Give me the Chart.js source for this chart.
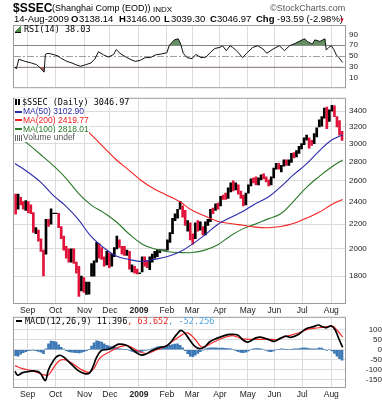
<!DOCTYPE html>
<html><head><meta charset="utf-8">
<script src="https://cdn.jsdelivr.net/npm/chart.js@4.4.1/dist/chart.umd.min.js"></script>
<style>
html,body{margin:0;padding:0;background:#fff;}
#wrap{position:relative;width:382px;height:400px;overflow:hidden;font-family:"Liberation Sans",Arial,sans-serif;color:#000;}
canvas{position:absolute;left:0;}
.t{position:absolute;white-space:nowrap;line-height:1;}
.m{font-family:"DejaVu Sans Mono",monospace;}
.lg{position:absolute;white-space:nowrap;line-height:9px;height:9px;background:#fff;font-size:8.5px;}
.dash{display:inline-block;width:7px;height:2px;vertical-align:middle;margin-right:1px;}
</style></head>
<body><div id="wrap">
<canvas id="rsi" width="382" height="96" style="top:0"></canvas>
<canvas id="price" width="382" height="226" style="top:90px"></canvas>
<canvas id="macd" width="382" height="90" style="top:310px"></canvas>

<div class="t" style="left:13px;top:2px;font-size:12px;font-weight:bold">$SSEC</div>
<div class="t" style="left:52px;top:4px;font-size:9px">(Shanghai Comp (EOD))</div>
<div class="t" style="left:153px;top:5.5px;font-size:8px">INDX</div>
<div class="t" style="left:270px;top:4px;font-size:9px;color:#555">©StockCharts.com</div>

<div class="t" style="left:14px;top:14px;font-size:9.5px">14-Aug-2009</div>
<div class="t" style="left:71px;top:14px;font-size:9.5px;font-weight:bold">O</div>
<div class="t" style="left:79px;top:14px;font-size:9.5px">3138.14</div>
<div class="t" style="left:119px;top:14px;font-size:9.5px;font-weight:bold">H</div>
<div class="t" style="left:126px;top:14px;font-size:9.5px">3146.00</div>
<div class="t" style="left:164px;top:14px;font-size:9.5px;font-weight:bold">L</div>
<div class="t" style="left:171px;top:14px;font-size:9.5px">3039.30</div>
<div class="t" style="left:210px;top:14px;font-size:9.5px;font-weight:bold">C</div>
<div class="t" style="left:217px;top:14px;font-size:9.5px">3046.97</div>
<div class="t" style="left:256px;top:14px;font-size:9.5px;font-weight:bold">Chg</div>
<div class="t" style="left:277px;top:14px;font-size:9.5px">-93.59 (-2.98%)</div>
<div class="t" style="left:339px;top:16.5px;font-size:6px;color:#d0103a">▼</div>

<div class="lg m" style="left:15px;top:25px;font-size:8.5px;background:transparent"><span style="display:inline-block;width:6px;height:6px;margin-right:3px;vertical-align:middle;background:linear-gradient(135deg,#fff 45%,#4f8a4f 46%);border-bottom:1px solid #000"></span>RSI(14) 38.03</div>

<div class="lg m" style="left:15px;top:97.8px"><span style="display:inline-block;width:2px;height:6px;background:#000;margin-right:1px;vertical-align:middle"></span><span style="display:inline-block;width:2px;height:6px;background:#000;margin-right:2px;vertical-align:middle"></span>$SSEC (Daily) 3046.97</div>
<div class="lg" style="left:15px;top:107.3px;color:#2b2ba8"><span class="dash" style="background:#2b2ba8"></span>MA(50) 3102.90</div>
<div class="lg" style="left:15px;top:115.6px;color:#f02020"><span class="dash" style="background:#f02020"></span>MA(200) 2419.77</div>
<div class="lg" style="left:15px;top:124.5px;color:#2a7a2a"><span class="dash" style="background:#2a7a2a"></span>MA(100) 2818.01</div>
<div class="lg" style="left:15px;top:133.2px;color:#555"><span style="display:inline-block;width:7px;height:6px;margin-right:1px;vertical-align:middle;background:repeating-linear-gradient(90deg,#666 0 1px,#fff 1px 2px)"></span>Volume undef</div>

<div class="lg m" style="left:16px;top:316.5px;background:transparent"><span class="dash" style="background:#000;width:6px;margin-right:3px"></span>MACD(12,26,9) 11.396<span style="color:#f02828">, 63.652</span><span style="color:#4aa3df">, -52.256</span></div>
</div>
<script>
const monthIdx = [10,32,55,75,98,120,140,162,184,205,227,250];
const monthLabels = ['Sep','Oct','Nov','Dec','2009','Feb','Mar','Apr','May','Jun','Jul','Aug'];
const priceTicks = [1800,2000,2200,2400,2600,2800,3000,3200,3400];
const rsiTicks = [10,30,50,70,90];
const macdTicks = [-150,-100,-50,0,50,100];
const prevClose = 2450;

const highs = [2470,2470,2440,2400,2410,2400,2370,2300,2170,2150, 2079,1990,2240,2240,2333,2296,2296,2293,2180,2100,
 2020,2000,2000,2000,1900,1870,1800,1790,1760,1760, 1890,1910,2050,2040,2010,1940,1980,1970,1960,2010,
 2100,2070,2020,2020,1990,1980,1880,1870,1850,1823, 1940,1940,1910,1940,1960,1980,1990,1995,1993,1993,
 2070,2130,2250,2290,2330,2402,2360,2320,2230,2210, 2120,2210,2230,2220,2180,2220,2240,2330,2340,2380,
 2385,2450,2460,2480,2530,2580,2600,2580,2560,2500, 2460,2480,2560,2620,2630,2640,2630,2660,2670,2640,
 2610,2640,2730,2780,2780,2760,2820,2820,2820,2890, 2900,2920,2970,3000,3070,3100,3070,3040,3120,3190,
 3290,3330,3440,3455,3420,3478,3470,3330,3280,3146];
const lows = [2285,2330,2370,2330,2320,2300,2290,2130,2120,2060, 1980,1802,1960,2180,2200,2290,2290,2170,2080,1990,
 1930,1900,1900,1890,1820,1664,1700,1690,1678,1680, 1800,1800,1900,1930,1920,1870,1880,1860,1870,1940,
 2000,2010,1960,1950,1950,1850,1830,1820,1815,1817, 1830,1870,1860,1845,1900,1930,1940,1970,1987,1987,
 1990,2050,2120,2230,2250,2330,2260,2190,2140,2070, 2037,2080,2140,2150,2110,2110,2190,2220,2290,2320,
 2330,2360,2420,2420,2430,2490,2500,2510,2470,2430, 2360,2370,2480,2550,2580,2560,2560,2610,2620,2590,
 2550,2560,2630,2720,2720,2690,2750,2760,2760,2790, 2840,2850,2890,2940,2990,3040,2950,2980,3000,3080,
 3200,3210,3310,3180,3270,3400,3330,3200,3100,3039];
const closes = [2337,2405,2400,2386,2397,2350,2300,2143,2150,2079, 1986,1896,2236,2201,2293,2293,2293,2173,2092,2000,
 1993,1909,1996,1895,1877,1771,1787,1719,1747,1747, 1827,1902,2030,2010,1930,1898,1969,1888,1946,2000,
 2027,2018,2011,1963,1974,1862,1866,1835,1820,1820, 1938,1878,1876,1935,1954,1955,1985,1990,1990,1990,
 2060,2124,2246,2261,2320,2359,2286,2201,2206,2082, 2071,2200,2145,2164,2128,2218,2227,2326,2323,2374,
 2373,2448,2444,2431,2529,2576,2516,2559,2494,2462, 2374,2477,2560,2616,2604,2570,2625,2647,2646,2609,
 2568,2632,2722,2768,2741,2749,2808,2776,2797,2880, 2856,2899,2965,2995,3060,3070,3005,3004,3112,3189,
 3265,3324,3435,3266,3412,3471,3356,3214,3112,3047];

const maIdx = [0,10,20,30,40,50,60,70,80,90,100,110,120,130,140,150,160,170,180,190,200,210,220,230,240,250,259];
const ma50  = [2780,2690,2590,2460,2360,2240,2100,2010,1945,1920,1905,1920,1940,1975,2035,2110,2195,2255,2310,2380,2440,2540,2660,2770,2910,3040,3102.90];
const ma100 = [3120,3000,2880,2760,2630,2480,2370,2300,2220,2120,2040,2000,1980,1972,1972,1990,2030,2100,2160,2200,2245,2290,2400,2530,2640,2740,2818.01];
const ma200 = [4060,3880,3710,3540,3380,3240,3110,2960,2820,2710,2600,2520,2460,2400,2320,2270,2225,2205,2190,2175,2170,2180,2205,2250,2300,2370,2419.77];

const rsiIdx = [0,1,3,8,13,17,20,23,24,26,30,34,37,41,45,49,52,56,60,63,66,70,74,78,80,83,87,91,95,99,103,107,111,116,120,122,126,129,131,133,136,140,143,147,151,155,158,162,164,167,170,172,175,180,183,188,192,196,199,204,209,213,217,222,227,229,231,235,237,241,245,246,248,250,252,254,256,259];
const rsiVal = [30,26,44,40,37,34,28,20,53,55,53,50,45,40,37,33,31,34,37,44,58,52,48,53,62,55,49,44,40,42,47,47,52,54,56,70,80,82,72,55,47,45,53,47,48,58,64,66,69,60,69,66,60,47,55,66,69,63,55,63,69,60,69,74,80,82,77,72,80,77,82,61,66,69,62,52,47,38.03];

const macdIdx = [0,2,6,10,14,18,20,24,26,28,32,35,38,44,50,55,59,62,64,68,74,78,82,88,92,96,100,104,108,114,120,124,128,131,134,138,142,146,150,154,160,166,170,176,180,184,190,194,200,205,210,214,218,224,230,236,240,243,246,250,253,256,259];
const macdVal = [-108,-128,-115,-110,-106,-110,-118,-154,-110,-80,-40,-28,-35,-70,-105,-120,-116,-80,-45,-5,2,15,28,22,5,-15,-27,-20,-5,10,20,45,78,97,85,50,18,5,15,40,58,72,77,74,50,38,58,63,52,42,58,68,62,76,105,116,124,115,110,119,100,55,11.396];
const sigIdx = [0,6,14,22,26,28,31,35,39,44,52,58,62,67,75,82,89,96,104,112,120,128,136,142,148,156,164,172,180,190,200,208,214,224,232,240,248,251,255,259];
const sigVal = [-80,-95,-106,-125,-128,-115,-85,-55,-50,-63,-98,-114,-98,-42,-10,13,21,-2,-19,0,21,58,84,55,13,35,58,71,54,52,52,52,66,84,103,110,117,119,95,63.652];
const hist = [-30,-33,-22,-15,-10,-5,-3,-2,-5,-8, -12,-20,5,30,43,42,38,25,12,3, -5,-10,-12,-14,-15,-16,-14,-10,-5,2,
 18,35,45,42,38,30,22,18,14,12, 8,5,3,2,0,-4,-8,-12,-14,-12, -8,-4,-2,0,5,10,14,16,16,16,
 18,22,26,28,29,22,10,-5,-20,-32, -35,-28,-18,-10,-2,5,8,10,10,9, 8,8,8,7,6,4,0,-5,-10,-14,
 -15,-12,-6,0,4,6,6,4,0,-4, -8,-10,-6,0,2,4,3,2,0,2, 4,5,6,8,9,8,6,5,4,5,
 10,8,2,-4,0,-6,-18,-32,-45,-52.256];

const FONT = "'Liberation Sans', Arial, sans-serif";
const GRID = '#dcdcdc';
const pts = (idx, vals) => idx.map((x, i) => ({x, y: vals[i]}));

const frame = {id:'frame', afterDraw(c){
  const a = c.chartArea, g = c.ctx; g.save();
  g.strokeStyle = '#9c9c9c'; g.lineWidth = 1;
  g.strokeRect(a.left - 0.5, a.top - 0.5, a.right - a.left + 1, a.bottom - a.top + 1);
  g.restore();
}};

function xScale(show){
  return {
    type:'linear', min:-0.8, max:260.85, offset:false, bounds:'data',
    afterBuildTicks: s => { s.ticks = monthIdx.map(v => ({value:v})); },
    afterFit: s => { s.height = show ? 13 : 1; },
    grid:{color:GRID, lineWidth:1, drawTicks:false, offset:false},
    border:{display:false},
    ticks:{display:show, autoSkip:false, maxRotation:0, minRotation:0, padding:3, color:'#222',
      font: c => ({family:FONT, size:8.5, weight: monthLabels[c.index] === '2009' ? 'bold' : 'normal'}),
      callback: (v, i) => monthLabels[i]}
  };
}
function yScale(ticksArr, extra){
  return Object.assign({
    position:'right', bounds:'data',
    afterBuildTicks: s => { s.ticks = ticksArr.map(v => ({value:v})); },
    afterFit: s => { s.width = 37; },
    grid:{color:GRID, lineWidth:1, drawTicks:false},
    border:{display:false},
    ticks:{padding:4, color:'#222', font:{family:FONT, size:8}, crossAlign:'near', callback: v => String(v)}
  }, extra);
}
const base = {responsive:false, animation:false, events:[],
  plugins:{legend:{display:false}, tooltip:{enabled:false}}};

// RSI panel
const rsiLines = {id:'rsiLines', beforeDatasetsDraw(c){
  const y = c.scales.y, a = c.chartArea, g = c.ctx; g.save(); g.lineWidth = 1;
  [[70,[]],[30,[]],[50,[7,2,2,2]]].forEach(([v, d]) => {
    const p = Math.round(y.getPixelForValue(v)) + 0.5;
    g.strokeStyle = v === 50 ? '#a0a0a0' : '#8c8c8c'; g.setLineDash(d);
    g.beginPath(); g.moveTo(a.left, p); g.lineTo(a.right, p); g.stroke();
  });
  g.restore();
}};
new Chart(document.getElementById('rsi'), {
  type:'line',
  data:{datasets:[
    {data:pts(rsiIdx, rsiVal), borderColor:'#111', borderWidth:1, pointRadius:0, tension:0,
     fill:{target:{value:70}, above:'rgba(70,125,70,0.85)', below:'rgba(0,0,0,0)'}},
    {data:pts(rsiIdx, rsiVal), borderColor:'rgba(0,0,0,0)', borderWidth:0, pointRadius:0, tension:0,
     fill:{target:{value:30}, above:'rgba(0,0,0,0)', below:'rgba(175,85,85,0.9)'}}
  ]},
  options:Object.assign({}, base, {
    layout:{padding:{left:14, right:0, top:26, bottom:0}},
    scales:{x:xScale(false), y:yScale(rsiTicks, {type:'linear', min:-7.9, max:105.7,
      grid:{drawOnChartArea:false, drawTicks:false}})}
  }),
  plugins:[frame, rsiLines]
});

// Price panel
const candleData = highs.map((h, i) => ({x: 2*i + 0.5, y: [lows[i], h]}));
const candleColors = closes.map((c, i) => c < (i ? closes[i-1] : prevClose) ? '#e0143a' : '#000');
new Chart(document.getElementById('price'), {
  type:'bar',
  data:{datasets:[
    {type:'line', data:pts(maIdx, ma50), borderColor:'#2b2ba8', borderWidth:1.1, pointRadius:0, tension:0.4, order:1},
    {type:'line', data:pts(maIdx, ma200), borderColor:'#f52020', borderWidth:1.1, pointRadius:0, tension:0.4, order:2},
    {type:'line', data:pts(maIdx, ma100), borderColor:'#2a7a2a', borderWidth:1.1, pointRadius:0, tension:0.4, order:3},
    {type:'bar', data:candleData, backgroundColor:candleColors, barThickness:2, borderWidth:0, order:10}
  ]},
  options:Object.assign({}, base, {
    layout:{padding:{left:14, right:0, top:5, bottom:0}},
    scales:{x:xScale(true), y:yScale(priceTicks, {type:'logarithmic', min:1623, max:3567})}
  }),
  plugins:[frame]
});

// MACD panel
new Chart(document.getElementById('macd'), {
  type:'bar',
  data:{datasets:[
    {type:'line', data:pts(macdIdx, macdVal), borderColor:'#000', borderWidth:1.7, pointRadius:0, tension:0.35, order:1},
    {type:'line', data:pts(sigIdx, sigVal), borderColor:'#f52a2a', borderWidth:1.2, pointRadius:0, tension:0.35, order:2},
    {type:'bar', data:hist.map((v, i) => ({x: 2*i + 0.5, y: v})), backgroundColor:'#3c78b5', barThickness:2, borderWidth:0, order:10}
  ]},
  options:Object.assign({}, base, {
    layout:{padding:{left:14, right:0, top:4, bottom:0}},
    scales:{x:xScale(true), y:yScale(macdTicks, {type:'linear', min:-187, max:160,
      ticks:{padding:3, color:'#222', font:{family:FONT, size:8}, crossAlign:'far', callback: v => String(v)}})}
  }),
  plugins:[frame]
});
</script>
</body></html>
